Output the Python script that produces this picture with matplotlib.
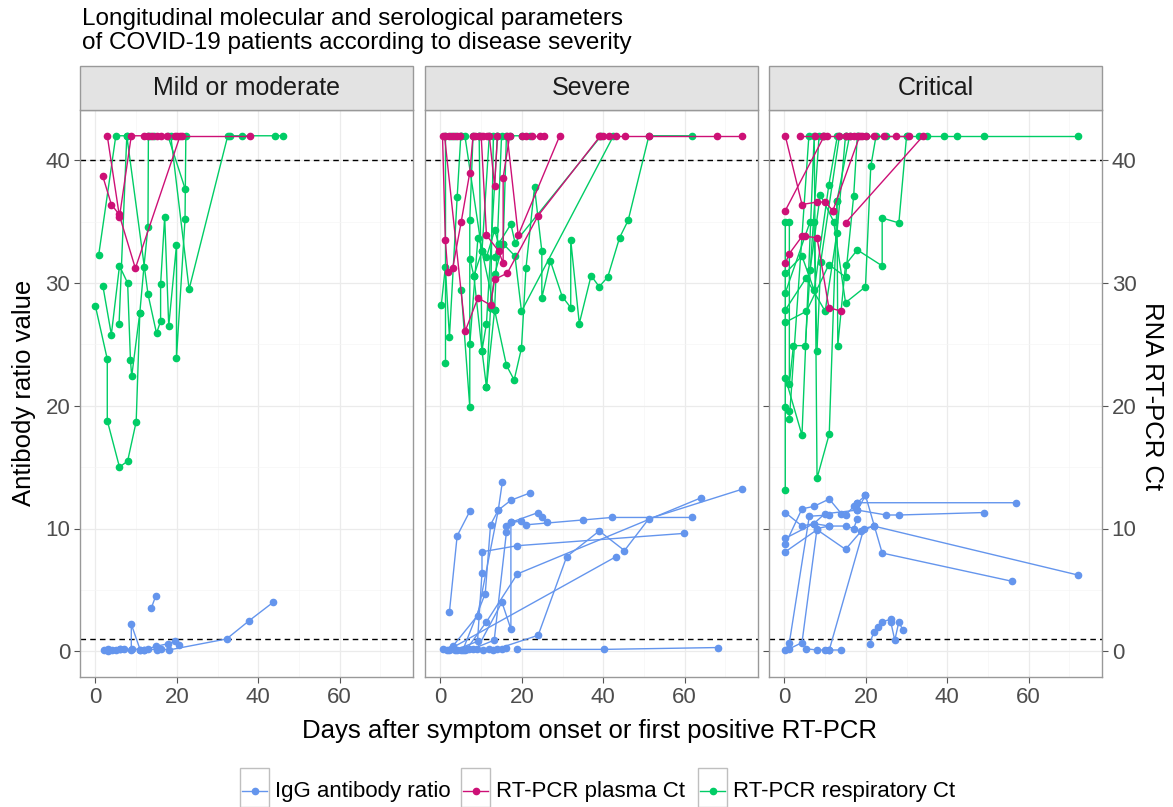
import matplotlib.pyplot as plt
from matplotlib.lines import Line2D
from matplotlib.patches import Rectangle

plt.rcParams['font.family'] = ['Liberation Sans', 'DejaVu Sans']

W, H = 1173, 807

cor_igg = '#6495ED'
cor_plasma = '#CD1076'
cor_resp = '#00CD66'

paineis = ['Mild or moderate', 'Severe', 'Critical']
series_nomes = ['IgG antibody ratio', 'RT-PCR plasma Ct', 'RT-PCR respiratory Ct']

# --- dados: cada paciente = (dias, valores) ---
mild_igg = [
    ([2, 3, 4, 6, 7], [0.1, 0.15, 0.1, 0.2, 0.15]),
    ([3, 5, 6, 8.8, 8.8, 11, 12], [0.05, 0.1, 0.2, 0.1, 2.2, 0.1, 0.1]),
    ([13.7, 14.8], [3.5, 4.5]),
    ([9, 12, 14.8, 17.7, 19.6, 20.6], [0.2, 0.1, 0.4, 0.6, 0.8, 0.5]),
    ([11, 13, 15, 16, 18, 32.2, 37.8, 43.7], [0.1, 0.2, 0.1, 0.2, 0.1, 1.0, 2.5, 4.0]),
]
mild_plasma = [
    ([1.8, 3.9, 5.8, 9.8, 20.8, 21.2], [38.7, 36.4, 35.6, 31.2, 42, 42]),
    ([2.9, 5.9, 8.8, 12, 13, 14, 15, 16, 17.5, 19.5], [42, 35.4, 42, 42, 42, 42, 42, 42, 42, 42]),
    ([20, 38], [42, 42]),
]
mild_resp = [
    ([0, 2.9, 2.9, 5.9, 7.9, 10, 10.9, 11.9, 12.9, 13], [28.1, 23.8, 18.8, 15.0, 15.5, 18.7, 27.6, 31.3, 34.6, 42]),
    ([0.8, 5, 7.8], [32.3, 42, 42]),
    ([1.8, 3.9, 5.9, 7.9, 8.6, 8.9, 10.9], [29.8, 25.8, 31.4, 30.0, 23.7, 22.4, 27.6]),
    ([5.8, 7.7, 12.9, 15, 16, 16, 17, 18, 19.9, 19.9, 22, 22.2],
     [26.7, 42, 29.1, 25.9, 26.9, 29.9, 35.4, 26.5, 33.1, 23.9, 35.2, 42]),
    ([13.5, 14.5, 17.8, 22], [42, 42, 42, 37.7]),
    ([18.5, 23, 32.5, 33, 36, 44, 46], [42, 29.5, 42, 42, 42, 42, 42]),
]

severe_igg = [
    ([2.2, 4.1, 7.2], [3.2, 9.4, 11.4]),
    ([1.5, 3, 9.1, 14.2, 15.2], [0.1, 0.4, 2.9, 11.5, 13.8]),
    ([3.5, 9.1, 10.2, 10.2, 18.9, 59.8], [0.1, 0.8, 6.4, 8.1, 8.6, 9.6]),
    ([5.5, 11.0, 12.3, 14.2, 17.3, 22], [0.1, 4.7, 10.3, 11.5, 12.3, 12.9]),
    ([6.5, 11.3, 18.9, 64.0], [0.2, 2.4, 6.3, 12.5]),
    ([8, 13.2, 16.2, 16.2, 17.3, 19.9, 21, 35.1, 42.1, 61.9],
     [0.2, 0.9, 9.7, 10.2, 10.5, 10.6, 10.3, 10.7, 10.9, 10.9]),
    ([9.0, 15.1, 17.3, 17.3, 24.0, 25.0, 26.1], [0.2, 4.0, 1.8, 10.5, 11.3, 10.9, 10.5]),
    ([3.0, 43.1], [0.3, 7.7]),
    ([14, 24.0, 31.0, 39.0, 45.2, 51.2, 74.1], [0.2, 1.3, 7.7, 9.8, 8.2, 10.8, 13.2]),
    ([18.9, 40.1, 68.1], [0.15, 0.15, 0.3]),
    ([0.5, 2, 2.5, 4, 5, 6, 7], [0.2, 0.1, 0.15, 0.1, 0.1, 0.1, 0.2]),
    ([10.5, 12, 13, 15, 16], [0.1, 0.15, 0.1, 0.2, 0.3]),
]
severe_plasma = [
    ([0.5, 1.2, 1.8, 3.0, 5.1, 7.2, 8], [42, 33.5, 30.9, 31.2, 35.0, 39.0, 42]),
    ([1.0, 6.1, 9.2, 12.3, 13.3, 16.4, 24.0, 39.3], [42, 26.1, 28.8, 28.2, 30.3, 30.8, 35.5, 42]),
    ([10, 11.3, 14.3, 15.4, 15.4, 17], [42, 33.9, 32.6, 31.6, 38.6, 42]),
    ([12, 13.3, 14], [42, 37.9, 42]),
    ([16.4, 19.1, 29.3], [42, 33.9, 42]),
    ([2, 3, 4, 4.7], [42, 42, 42, 42]),
    ([38.9, 40, 41.5, 43, 45.3, 51.2, 68, 74.1], [42, 42, 42, 42, 42, 42, 42, 42]),
    ([20, 21, 22.5, 24.5, 25.5], [42, 42, 42, 42, 42]),
    ([8.5, 9.5, 10.5, 11.5], [42, 42, 42, 42]),
]
severe_resp = [
    ([0.2, 1.2, 2.2, 4.1, 5], [28.2, 31.3, 25.6, 37.0, 42]),
    ([1.2, 1.2, 2.5, 3.5], [23.5, 42, 42, 42]),
    ([5.1, 7.2, 7.2, 8, 9.5], [29.4, 19.9, 35.1, 42, 42]),
    ([7.2, 8.2, 10.2, 11.3, 12.3, 13], [32.0, 30.6, 24.5, 21.5, 28.0, 42]),
    ([7.2, 9.2, 11.3, 13.3, 14.3, 15.4, 16.2], [25.0, 33.7, 32.1, 34.3, 33.2, 33.2, 42]),
    ([11.3, 13.3, 16.2, 18.1, 19.9, 21.0, 23.1, 24.9, 24.9, 27, 29.9, 32, 32, 34.1, 37, 39, 41.1, 44, 46.1, 51.2, 61.9],
     [21.5, 27.8, 23.3, 22.1, 24.7, 31.2, 37.8, 32.6, 28.8, 31.8, 28.9, 28.0, 33.5, 26.7, 30.6, 29.7, 30.5, 33.7, 35.1, 42, 42]),
    ([12.3, 13.3, 15.4, 18.3, 19.9, 42.5], [28.0, 30.7, 33.2, 32.2, 27.7, 42]),
    ([13.3, 14.3, 17.3, 18.3, 39.5], [32.1, 33.2, 34.8, 33.3, 42]),
    ([8.2, 10.2, 12, 14, 17, 20, 22], [30.6, 32.6, 42, 42, 42, 42, 42]),
    ([9.5, 10.2, 11.3, 14], [42, 24.5, 26.7, 42]),
    ([5, 6, 10.2, 13.3, 15], [42, 42, 32.6, 27.8, 42]),
]

critical_igg = [
    ([0.2, 4.3, 7.2, 11.0, 15.0, 17.0, 17.9], [11.3, 10.2, 10.4, 10.2, 10.2, 10.0, 10.8]),
    ([0.2, 4.3, 7.2, 11.0, 14, 15, 17.9, 19.9], [8.7, 11.6, 11.8, 12.4, 11.2, 11.1, 12.1, 12.7]),
    ([0.2, 7.2, 9.9, 17.9, 19.9, 24.0, 55.9], [9.2, 10.4, 11.2, 11.5, 12.7, 8.0, 5.7]),
    ([0.2, 8.0, 15, 18.9, 21.9, 72.2], [8.1, 9.9, 8.3, 9.8, 10.2, 6.2]),
    ([17.9, 25, 28.1, 48.9], [11.5, 11.1, 11.1, 11.3]),
    ([17.0, 17.9, 56.9], [11.8, 12.1, 12.1]),
    ([0.2, 1.2, 6.1, 11.0], [0.1, 0.7, 11.0, 11.1]),
    ([1.2, 4.3, 8.0, 11.0], [0.2, 0.7, 10.0, 10.2]),
    ([5.3, 8.0, 10, 11.0, 14], [0.2, 0.1, 0.1, 0.1, 0.1]),
    ([11.0, 19.5, 21.9], [0.1, 10.0, 10.2]),
    ([20.9, 22, 23, 24, 26.1, 26.1, 27.1, 28.1, 29.1], [0.6, 1.6, 2.0, 2.4, 2.6, 2.4, 0.9, 2.4, 1.7]),
]
critical_plasma = [
    ([0.2, 4.3, 8.0, 10.0, 11.9], [42, 36.4, 36.6, 36.6, 35.9]),
    ([0.2, 9.8], [35.9, 42]),
    ([0.2, 1.2, 4.3, 5.1, 8.0, 10.9, 14.0], [31.6, 32.4, 33.8, 33.8, 33.7, 28.0, 27.7]),
    ([15.0, 34.1], [34.9, 42]),
    ([11.9, 18.5], [35.9, 42]),
    ([3.9, 7.5, 9.5, 10.5, 13.5, 15, 16, 17, 18, 19, 20, 22, 24.5, 27.5, 30.5],
     [42, 42, 42, 42, 42, 42, 42, 42, 42, 42, 42, 42, 42, 42, 42]),
]
critical_resp = [
    ([0.2, 0.2, 1.2, 1.2, 2.2, 5.1, 8.5], [13.1, 35.0, 35.0, 21.8, 24.9, 24.9, 42]),
    ([0.2, 1.2, 1.2, 6, 9.5], [19.9, 19.6, 18.9, 42, 42]),
    ([0.2, 4.3, 7.3, 10.9, 13], [30.8, 32.2, 29.4, 38.0, 42]),
    ([0.2, 6.3, 7.2, 8.0, 8.9, 13.5], [29.2, 35.0, 35.0, 24.5, 31.7, 42]),
    ([0.2, 5.3, 10.0, 12.9, 15.0], [27.8, 30.4, 27.7, 34.1, 42]),
    ([0.2, 5.4, 10.9, 15.0, 17, 17.9], [26.8, 27.7, 31.5, 30.5, 37.1, 42]),
    ([0.2, 4.3, 7.3, 8.0, 11.0, 12.9, 16], [22.3, 17.6, 42, 14.1, 17.7, 36.7, 42]),
    ([6.3, 8.8, 12.1, 15.0, 19.9, 21.2, 22.5], [31.1, 37.2, 35.0, 28.4, 29.7, 39.5, 42]),
    ([12.9, 13.1, 15.0, 17.9, 24.0, 24.0, 28.1, 30], [36.7, 24.9, 31.5, 32.7, 31.4, 35.3, 34.9, 42]),
    ([15, 18, 20, 25, 30, 33, 35, 39.3, 42.3, 48.9, 72.2], [42, 42, 42, 42, 42, 42, 42, 42, 42, 42, 42]),
]

dados = [
    (mild_igg, mild_plasma, mild_resp),
    (severe_igg, severe_plasma, severe_resp),
    (critical_igg, critical_plasma, critical_resp),
]

fig = plt.figure(figsize=(W / 100, H / 100), dpi=100)

lefts = [80, 425, 769]
pw = 333
ptop, pbot = 110, 677
cinza_txt = '#4D4D4D'
cinza_borda = '#999999'

for i, (nome, (igg, plasma, resp)) in enumerate(zip(paineis, dados)):
    ax = fig.add_axes([lefts[i] / W, 1 - pbot / H, pw / W, (pbot - ptop) / H])
    ax.set_xlim(-3.8, 78)
    ax.set_ylim(-2.1, 44.1)
    ax.set_xticks([0, 20, 40, 60])
    ax.set_yticks([0, 10, 20, 30, 40])
    ax.set_xticks([10, 30, 50, 70], minor=True)
    ax.set_yticks([5, 15, 25, 35], minor=True)
    ax.grid(True, which='major', color='#EBEBEB', lw=0.9)
    ax.grid(True, which='minor', color='#F5F5F5', lw=0.5)
    ax.set_axisbelow(True)
    for s in ax.spines.values():
        s.set_color(cinza_borda)
        s.set_linewidth(1.0)
    ax.tick_params(which='minor', length=0)
    ax.tick_params(which='major', length=4, color='#555555', labelsize=16,
                   labelcolor=cinza_txt, pad=3)
    if i > 0:
        ax.tick_params(axis='y', labelleft=False, length=0)
    if i == 2:
        ax.tick_params(axis='y', right=True, labelright=True, length=4)

    ax.axhline(40, color='black', ls=(0, (4, 3)), lw=1.0, zorder=1)
    ax.axhline(1, color='black', ls=(0, (4, 3)), lw=1.0, zorder=1)

    for grupo, cor in [(igg, cor_igg), (resp, cor_resp), (plasma, cor_plasma)]:
        for dias, vals in grupo:
            ax.plot(dias, vals, color=cor, lw=1.0, marker='o', ms=4.5,
                    mec=cor, mfc=cor, zorder=3)

    # faixa do painel
    fig.add_artist(Rectangle((lefts[i] / W, 1 - ptop / H), pw / W, 44 / H,
                             transform=fig.transFigure, facecolor='#E3E3E3',
                             edgecolor=cinza_borda, lw=1.0))
    fig.text((lefts[i] + pw / 2) / W, 1 - 88 / H, nome, ha='center', va='center',
             fontsize=18, color='#1A1A1A')

fig.text(82 / W, 1 - 31 / H,
         'Longitudinal molecular and serological parameters\nof COVID-19 patients according to disease severity',
         ha='left', va='center', fontsize=17.5, linespacing=1.08)
fig.text(24 / W, 1 - 393 / H, 'Antibody ratio value', rotation=90,
         ha='center', va='center', fontsize=18.5)
fig.text(1152 / W, 1 - 396 / H, 'RNA RT-PCR Ct', rotation=-90,
         ha='center', va='center', fontsize=18.5)
fig.text(590 / W, 1 - 731 / H, 'Days after symptom onset or first positive RT-PCR',
         ha='center', va='center', fontsize=18.5)

# legenda desenhada a mao
chaves_x = [240, 461, 698]
for x0, nome, cor in zip(chaves_x, series_nomes, [cor_igg, cor_plasma, cor_resp]):
    fig.add_artist(Rectangle((x0 / W, 0), 29 / W, 39 / H, transform=fig.transFigure,
                             facecolor='white', edgecolor='#BFBFBF', lw=1.0))
    fig.add_artist(Line2D([(x0 + 2) / W, (x0 + 27) / W], [1 - 791 / H, 1 - 791 / H],
                          transform=fig.transFigure, color=cor, lw=1.0))
    fig.add_artist(Line2D([(x0 + 14.5) / W], [1 - 791 / H], transform=fig.transFigure,
                          color=cor, marker='o', ms=4.5))
    fig.text((x0 + 35) / W, 1 - 791 / H, nome, ha='left', va='center', fontsize=16)

fig.savefig('out.png', dpi=100)
